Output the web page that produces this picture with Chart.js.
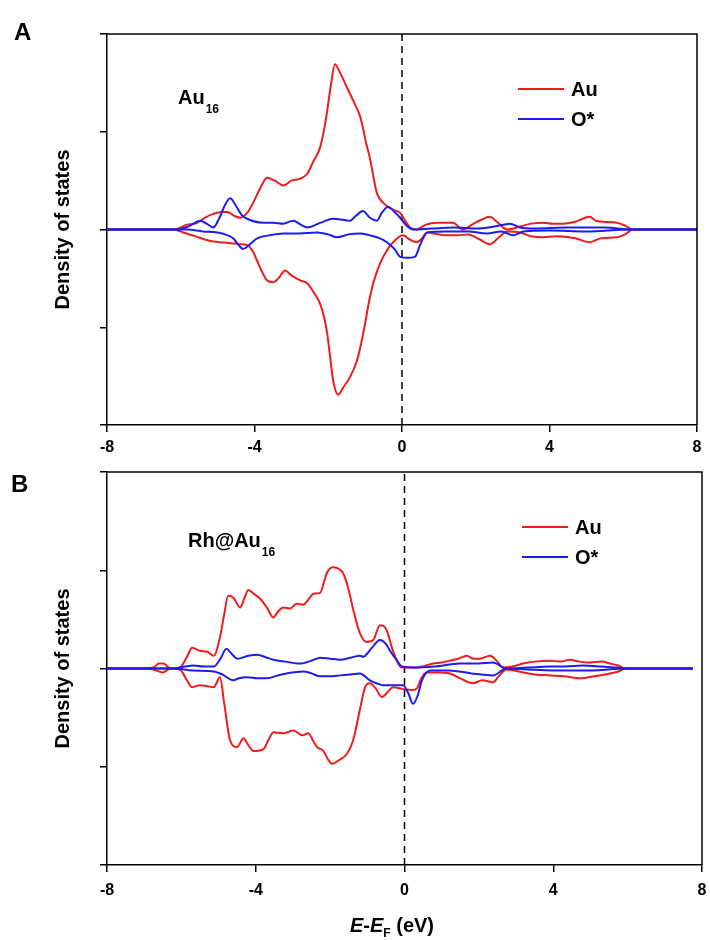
<!DOCTYPE html>
<html>
<head>
<meta charset="utf-8">
<script src="https://cdn.jsdelivr.net/npm/chart.js@4.4.0/dist/chart.umd.min.js"></script>
<style>
  body { margin: 0; background: #fff; }
  #wrapA { position: absolute; left: 0; top: 0; width: 710px; height: 460px; }
  #wrapB { position: absolute; left: 0; top: 460px; width: 710px; height: 480px; }
</style>
</head>
<body>
<div id="wrapA"><canvas id="chartA" width="710" height="460"></canvas></div>
<div id="wrapB"><canvas id="chartB" width="710" height="480"></canvas></div>
<script>
// energy axis ticks (eV) and DOS axis ticks (arb. units)
var xTicks = [-8, -4, 0, 4, 8];
var yTicks = [-2, -1, 0, 1, 2];
var seriesNames = ['Au', 'O*'];

// panel A : Au16   [E - EF, DOS]
var auUpA = [[-8,0],[-6.2,0],[-6.0,0.02],[-5.83,0.05],[-5.6,0.06],[-5.35,0.12],[-5.12,0.16],[-4.9,0.18],[-4.74,0.18],[-4.55,0.14],[-4.39,0.12],[-4.2,0.17],[-4.04,0.27],[-3.85,0.42],[-3.66,0.53],[-3.45,0.5],[-3.22,0.45],[-3.0,0.5],[-2.76,0.52],[-2.57,0.57],[-2.4,0.7],[-2.22,0.84],[-2.1,1.05],[-2.03,1.21],[-1.92,1.5],[-1.82,1.69],[-1.7,1.62],[-1.49,1.45],[-1.3,1.3],[-1.14,1.16],[-1.06,1.04],[-0.97,0.88],[-0.87,0.73],[-0.78,0.55],[-0.68,0.37],[-0.5,0.27],[-0.33,0.22],[-0.15,0.19],[-0.05,0.17],[0.1,0.08],[0.22,0.02],[0.4,0],[0.65,0.05],[0.95,0.07],[1.2,0.07],[1.38,0.07],[1.65,0.0],[1.9,0.05],[2.15,0.1],[2.38,0.13],[2.6,0.07],[2.85,0],[3.2,0.03],[3.5,0.06],[3.82,0.07],[4.1,0.06],[4.36,0.06],[4.7,0.08],[5.09,0.13],[5.25,0.09],[5.45,0.08],[5.83,0.07],[6.05,0.04],[6.26,0],[8,0]];
var auDnA = [[-8,0],[-6.2,0],[-5.93,-0.03],[-5.6,-0.07],[-5.28,-0.11],[-4.95,-0.13],[-4.66,-0.14],[-4.4,-0.15],[-4.2,-0.16],[-4.05,-0.22],[-3.93,-0.32],[-3.8,-0.43],[-3.66,-0.52],[-3.5,-0.54],[-3.35,-0.5],[-3.17,-0.42],[-3.0,-0.47],[-2.76,-0.52],[-2.57,-0.55],[-2.4,-0.64],[-2.22,-0.76],[-2.1,-0.92],[-2.03,-1.06],[-1.95,-1.3],[-1.87,-1.54],[-1.73,-1.69],[-1.6,-1.62],[-1.41,-1.51],[-1.22,-1.34],[-1.1,-1.15],[-1.0,-0.96],[-0.9,-0.75],[-0.78,-0.55],[-0.65,-0.4],[-0.51,-0.28],[-0.35,-0.18],[-0.24,-0.13],[0.03,-0.06],[0.2,-0.1],[0.4,-0.13],[0.55,-0.09],[0.68,-0.03],[1.0,-0.05],[1.25,-0.06],[1.49,-0.06],[1.8,-0.05],[2.1,-0.1],[2.38,-0.15],[2.6,-0.09],[2.85,-0.02],[3.2,-0.03],[3.5,-0.07],[3.82,-0.08],[4.2,-0.07],[4.7,-0.09],[5.09,-0.13],[5.4,-0.09],[5.83,-0.08],[6.05,-0.05],[6.26,0],[8,0]];
var oUpA = [[-8,0],[-6.1,0],[-5.8,0.03],[-5.47,0.09],[-5.3,0.06],[-5.12,0.02],[-4.95,0.12],[-4.8,0.25],[-4.66,0.32],[-4.5,0.24],[-4.35,0.15],[-4.2,0.11],[-3.77,0.07],[-3.5,0.07],[-3.22,0.06],[-2.95,0.09],[-2.75,0.05],[-2.57,0.02],[-2.2,0.07],[-1.87,0.11],[-1.6,0.1],[-1.41,0.09],[-1.25,0.14],[-1.06,0.19],[-0.87,0.12],[-0.68,0.09],[-0.55,0.17],[-0.38,0.23],[-0.2,0.18],[-0.05,0.12],[0.1,0.05],[0.3,0],[0.8,0.01],[1.4,0.02],[2.0,0.01],[2.5,0.03],[2.93,0.06],[3.2,0.02],[3.6,0.01],[4.5,0.02],[5.5,0.02],[6.2,0],[8,0]];
var oDnA = [[-8,0],[-6.0,0],[-5.83,0],[-5.4,-0.02],[-5.01,-0.03],[-4.8,-0.05],[-4.58,-0.09],[-4.45,-0.15],[-4.31,-0.2],[-4.15,-0.16],[-3.93,-0.09],[-3.6,-0.06],[-3.22,-0.04],[-2.8,-0.04],[-2.3,-0.03],[-2.0,-0.05],[-1.76,-0.08],[-1.45,-0.05],[-1.14,-0.04],[-0.87,-0.06],[-0.6,-0.09],[-0.41,-0.13],[-0.2,-0.2],[-0.05,-0.28],[0.15,-0.29],[0.35,-0.28],[0.5,-0.15],[0.68,-0.03],[1.2,-0.02],[1.8,-0.02],[2.3,-0.04],[2.7,-0.02],[3.01,-0.06],[3.3,-0.02],[4.0,-0.01],[5.0,-0.02],[6.2,0],[8,0]];

// panel B : Rh@Au16
var auUpB = [[-8,0],[-7.0,0],[-6.75,0.01],[-6.6,0.05],[-6.48,0.05],[-6.3,0.0],[-6.04,0.01],[-5.85,0.12],[-5.71,0.21],[-5.5,0.18],[-5.3,0.17],[-5.13,0.13],[-4.96,0.32],[-4.85,0.55],[-4.74,0.74],[-4.6,0.72],[-4.42,0.62],[-4.3,0.72],[-4.2,0.8],[-4.05,0.76],[-3.88,0.71],[-3.7,0.62],[-3.53,0.52],[-3.4,0.58],[-3.26,0.62],[-3.08,0.61],[-2.9,0.66],[-2.72,0.65],[-2.55,0.72],[-2.45,0.76],[-2.27,0.77],[-2.15,0.9],[-2.09,0.97],[-1.92,1.03],[-1.75,1.01],[-1.65,0.97],[-1.5,0.8],[-1.38,0.6],[-1.2,0.36],[-1.02,0.27],[-0.84,0.29],[-0.66,0.44],[-0.55,0.43],[-0.48,0.39],[-0.31,0.18],[-0.07,0.01],[0.3,0.01],[0.77,0.05],[1.0,0.06],[1.22,0.08],[1.45,0.1],[1.67,0.13],[1.85,0.1],[2.03,0.1],[2.3,0.13],[2.5,0.07],[2.65,0.01],[2.9,0.02],[3.19,0.05],[3.5,0.07],[3.91,0.08],[4.2,0.07],[4.45,0.09],[4.7,0.07],[4.99,0.06],[5.3,0.07],[5.53,0.05],[5.75,0.03],[5.95,0],[7.75,0]];
var auDnB = [[-8,0],[-7.0,0],[-6.75,-0.01],[-6.5,-0.04],[-6.3,0],[-6.04,-0.01],[-5.85,-0.12],[-5.71,-0.19],[-5.5,-0.17],[-5.3,-0.18],[-5.13,-0.19],[-4.96,-0.09],[-4.85,-0.35],[-4.69,-0.73],[-4.5,-0.8],[-4.33,-0.71],[-4.2,-0.78],[-4.06,-0.84],[-3.79,-0.82],[-3.65,-0.72],[-3.52,-0.65],[-3.26,-0.66],[-2.99,-0.63],[-2.75,-0.68],[-2.59,-0.66],[-2.45,-0.74],[-2.35,-0.8],[-2.18,-0.84],[-2.05,-0.93],[-1.95,-0.97],[-1.75,-0.93],[-1.55,-0.87],[-1.38,-0.73],[-1.2,-0.42],[-1.06,-0.19],[-0.93,-0.15],[-0.78,-0.2],[-0.61,-0.29],[-0.45,-0.24],[-0.31,-0.19],[-0.04,-0.21],[0.2,-0.22],[0.34,-0.2],[0.45,-0.1],[0.6,-0.04],[0.9,-0.04],[1.22,-0.05],[1.5,-0.1],[1.84,-0.15],[2.1,-0.12],[2.38,-0.14],[2.55,-0.07],[2.74,-0.01],[3.2,-0.04],[3.5,-0.06],[3.91,-0.07],[4.3,-0.08],[4.72,-0.1],[5.1,-0.08],[5.53,-0.05],[5.75,-0.03],[5.95,0],[7.75,0]];
var oUpB = [[-8,0],[-6.2,0],[-5.9,0.02],[-5.68,0.03],[-5.4,0.02],[-5.13,0.02],[-4.95,0.1],[-4.79,0.2],[-4.65,0.15],[-4.5,0.1],[-4.2,0.13],[-3.96,0.14],[-3.7,0.11],[-3.53,0.09],[-3.2,0.07],[-2.81,0.05],[-2.5,0.08],[-2.27,0.11],[-2.0,0.1],[-1.73,0.09],[-1.45,0.11],[-1.2,0.13],[-1.11,0.12],[-0.9,0.2],[-0.66,0.29],[-0.5,0.25],[-0.39,0.18],[-0.2,0.08],[-0.07,0.02],[0.3,0.01],[0.8,0.02],[1.49,0.05],[2.0,0.05],[2.38,0.06],[2.74,0],[3.3,0.01],[3.91,0.02],[4.3,0.02],[4.8,0.03],[5.3,0.02],[5.7,0.01],[5.95,0],[7.75,0]];
var oDnB = [[-8,0],[-6.2,0],[-5.7,-0.02],[-5.13,-0.03],[-4.9,-0.06],[-4.61,-0.12],[-4.45,-0.1],[-4.24,-0.09],[-3.95,-0.1],[-3.7,-0.1],[-3.4,-0.07],[-3.17,-0.05],[-2.72,-0.03],[-2.5,-0.05],[-2.27,-0.08],[-2.0,-0.08],[-1.73,-0.07],[-1.45,-0.06],[-1.2,-0.05],[-0.93,-0.12],[-0.75,-0.15],[-0.57,-0.17],[-0.3,-0.17],[-0.04,-0.17],[0.1,-0.25],[0.23,-0.36],[0.35,-0.28],[0.47,-0.12],[0.69,-0.02],[1.2,-0.02],[1.8,-0.05],[2.38,-0.07],[2.74,0],[3.3,-0.01],[4.0,-0.02],[5.0,-0.02],[5.95,0],[7.75,0]];

// Fermi level marker
var fermiLine = [[0, -2], [0, 2]];

var RED = '#f01c1c';
var BLUE = '#1c1cf0';
var FONT = "'Liberation Sans', Arial, sans-serif";

// draws frame top/right, panel letter, system label and legend
var decorPlugin = {
  id: 'decor',
  afterDraw: function (chart, args, opts) {
    var ctx = chart.ctx;
    var a = chart.chartArea;
    ctx.save();
    ctx.strokeStyle = '#000';
    ctx.lineWidth = 1.5;
    ctx.beginPath();
    ctx.moveTo(a.left, a.top);
    ctx.lineTo(a.right, a.top);
    ctx.lineTo(a.right, a.bottom);
    ctx.stroke();

    ctx.fillStyle = '#000';
    ctx.textBaseline = 'alphabetic';
    ctx.textAlign = 'left';
    ctx.font = 'bold ' + opts.letterSize + 'px ' + FONT;
    ctx.fillText(opts.letter, opts.letterX, opts.letterY);

    // system name with subscript
    ctx.font = 'bold 20px ' + FONT;
    ctx.fillText(opts.name, opts.nameX, opts.nameY);
    var w = ctx.measureText(opts.name).width;
    ctx.font = 'bold 12px ' + FONT;
    ctx.fillText(opts.nameSub, opts.nameX + w + 1, opts.nameY + 9);

    // legend
    var colors = [RED, BLUE];
    for (var i = 0; i < seriesNames.length; i++) {
      var ly = opts.legendY + i * 30;
      ctx.strokeStyle = colors[i];
      ctx.lineWidth = 2;
      ctx.beginPath();
      ctx.moveTo(opts.legendX, ly);
      ctx.lineTo(opts.legendX + 46, ly);
      ctx.stroke();
      ctx.fillStyle = '#000';
      ctx.font = 'bold 20px ' + FONT;
      ctx.textBaseline = 'middle';
      ctx.fillText(seriesNames[i], opts.legendX + 53, ly + 1);
    }

    // x axis title  E-E_F (eV)
    if (opts.xTitle) {
      var x = 350;
      var y = chart.height - 8;
      ctx.textBaseline = 'alphabetic';
      ctx.font = 'italic bold 20px ' + FONT;
      ctx.fillText('E', x, y); x += ctx.measureText('E').width;
      ctx.font = 'bold 20px ' + FONT;
      ctx.fillText('-', x, y); x += ctx.measureText('-').width;
      ctx.font = 'italic bold 20px ' + FONT;
      ctx.fillText('E', x, y); x += ctx.measureText('E').width;
      ctx.font = 'bold 12px ' + FONT;
      ctx.fillText('F', x, y + 5); x += ctx.measureText('F').width;
      ctx.font = 'bold 20px ' + FONT;
      ctx.fillText(' (eV)', x, y);
    }
    ctx.restore();
  }
};

function lineSet(data, color, order) {
  return {
    data: data,
    borderColor: color,
    borderWidth: 2,
    pointRadius: 0,
    fill: false,
    tension: 0.4,
    cubicInterpolationMode: 'monotone',
    order: order
  };
}

function criarGrafico(id, sets, xAxisHeight, tickPad, pad, decor) {
  var config = {
    type: 'line',
    data: {
      datasets: [
        lineSet(sets[0], RED, 1),
        lineSet(sets[1], RED, 1),
        lineSet(sets[2], BLUE, 0),
        lineSet(sets[3], BLUE, 0),
        {
          data: fermiLine,
          borderColor: '#000',
          borderWidth: 1.5,
          borderDash: [7, 5],
          pointRadius: 0,
          order: 2
        }
      ]
    },
    options: {
      responsive: false,
      animation: false,
      devicePixelRatio: 1,
      layout: { padding: pad },
      plugins: {
        legend: { display: false },
        tooltip: { enabled: false },
        decor: decor
      },
      scales: {
        x: {
          type: 'linear',
          min: xTicks[0],
          max: xTicks[xTicks.length - 1],
          afterBuildTicks: function (s) { s.ticks = xTicks.map(function (v) { return { value: v }; }); },
          afterFit: function (s) { s.height = xAxisHeight; s.paddingLeft = 0; s.paddingRight = 0; },
          ticks: {
            color: '#000',
            padding: tickPad,
            maxRotation: 0,
            font: { family: FONT, size: 16, weight: 'bold' },
            callback: function (v) { return String(v); }
          },
          grid: { drawOnChartArea: false, drawTicks: true, tickLength: 7, color: '#000', lineWidth: 1.5 },
          border: { color: '#000', width: 1.5 }
        },
        y: {
          min: yTicks[0],
          max: yTicks[yTicks.length - 1],
          afterBuildTicks: function (s) { s.ticks = yTicks.map(function (v) { return { value: v }; }); },
          afterFit: function (s) { s.width = 107; },
          ticks: { callback: function () { return ''; } },
          grid: { drawOnChartArea: false, drawTicks: true, tickLength: 7, color: '#000', lineWidth: 1.5 },
          border: { color: '#000', width: 1.5 },
          title: {
            display: true,
            text: 'Density of states',
            color: '#000',
            font: { family: FONT, size: 20, weight: 'bold' },
            padding: { top: 51, bottom: 0 }
          }
        }
      }
    },
    plugins: [decorPlugin]
  };
  return new Chart(document.getElementById(id), config);
}

criarGrafico('chartA', [auUpA, auDnA, oUpA, oDnA], 35, 6,
  { left: 0, right: 13, top: 34, bottom: 0 },
  { letter: 'A', letterSize: 24, letterX: 14, letterY: 40,
    name: 'Au', nameSub: '16', nameX: 178, nameY: 104,
    legendX: 518, legendY: 89, xTitle: false });

criarGrafico('chartB', [auUpB, auDnB, oUpB, oDnB], 75, 9,
  { left: 0, right: 8, top: 12, bottom: 0 },
  { letter: 'B', letterSize: 24, letterX: 11, letterY: 32,
    name: 'Rh@Au', nameSub: '16', nameX: 188, nameY: 87,
    legendX: 522, legendY: 67, xTitle: true });
</script>
</body>
</html>
